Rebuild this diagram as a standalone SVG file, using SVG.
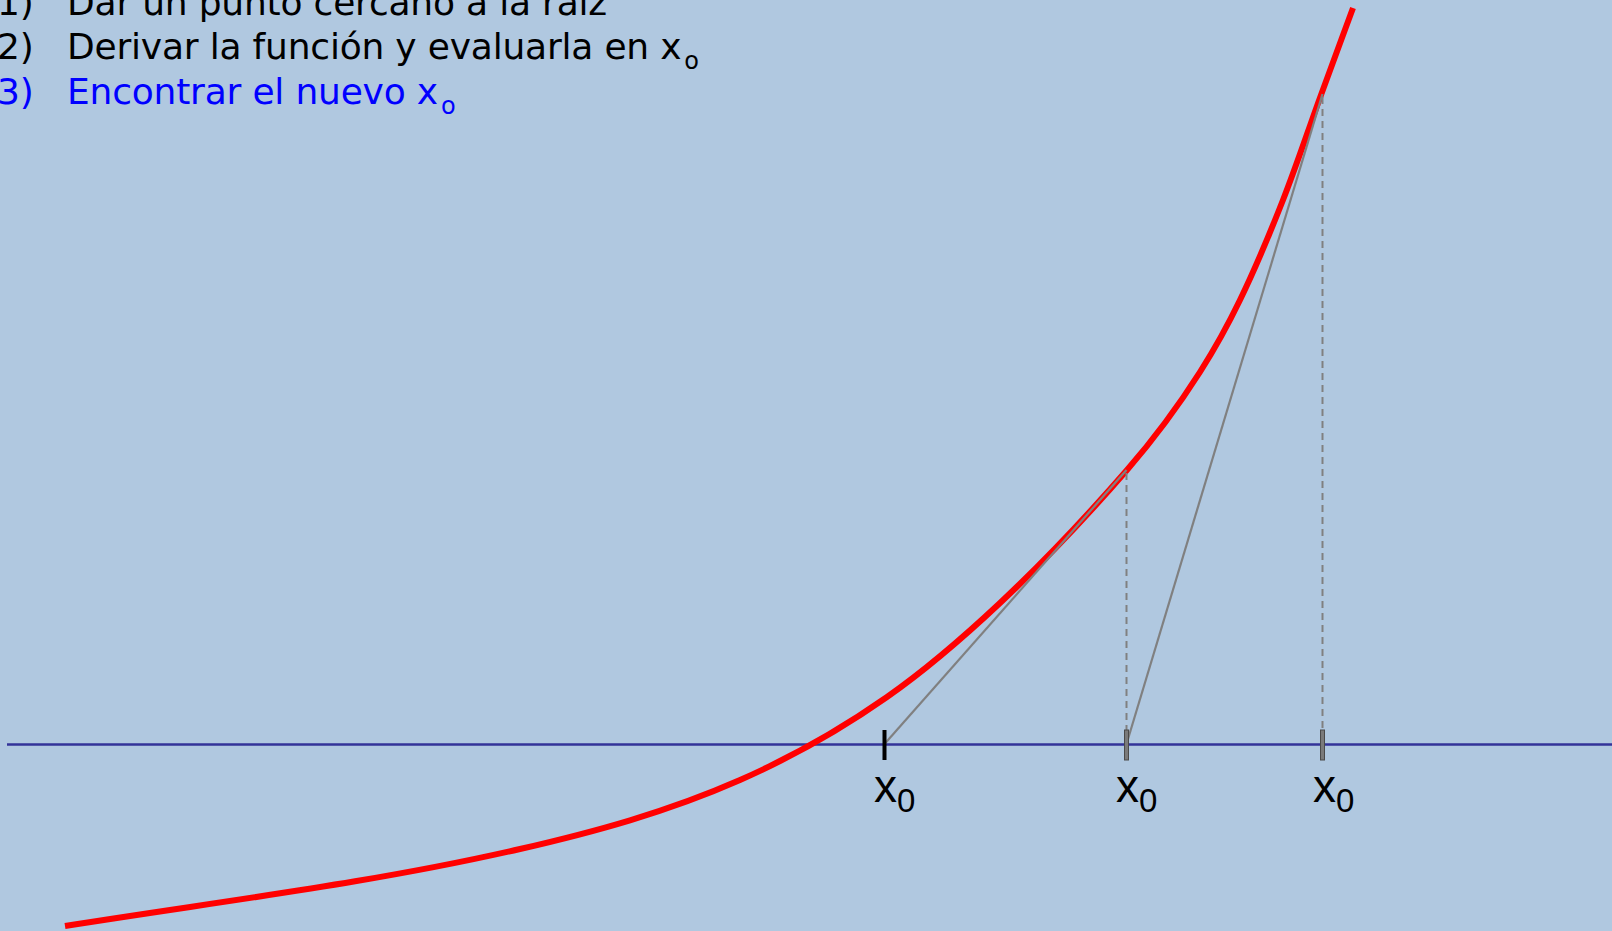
<svg xmlns="http://www.w3.org/2000/svg" width="1612" height="931" viewBox="0 0 1612 931">
  <style>
    .bg { fill: #b0c8e0; }
    .axis { stroke: #333399; stroke-width: 2.5; fill: none; }
    .curve { stroke: #ff0000; stroke-width: 6; fill: none; stroke-linecap: butt; }
    .tan { stroke: #808080; stroke-width: 2.2; fill: none; }
    .dash { stroke: #808080; stroke-width: 2; stroke-dasharray: 7 5; fill: none; }
    .tick0 { fill: #000000; }
    .tick { fill: #7a7a7a; stroke: #4a4a4a; stroke-width: 1; }
    .lab { font-family: "Liberation Sans", Arial, sans-serif; fill: #000000; }
    .list { font-family: "DejaVu Sans", Verdana, sans-serif; font-size: 36px; letter-spacing: -0.2px; }
  </style>
  <rect class="bg" x="0" y="0" width="1612" height="931"/>

  <g id="axis">
    <line class="axis" x1="7" y1="744.5" x2="1612" y2="744.5"/>
  </g>

  <g id="curve">
    <path class="curve" d="M65,926 C216.7,901.7 368.3,883.9 520,849 C593.3,832.1 666.7,812.3 740,780 C789,758.4 838,731.3 887,697 C924.7,670.6 962.3,638.4 1000,603 C1042.3,563.2 1084.7,518.7 1127,470 C1151.3,442 1175.7,410.2 1200,372 C1213.3,351.1 1226.7,327.5 1240,300 C1254.3,270.5 1268.7,236.4 1283,200 C1295.7,167.8 1308.3,129.7 1321,95 C1331.7,65.8 1342.3,37 1353,8"/>
  </g>

  <g id="connectors">
    <line class="tan" x1="884.5" y1="744" x2="1126.5" y2="470"/>
    <line class="tan" x1="1126.5" y1="744" x2="1322.5" y2="94"/>
    <line class="dash" x1="1126.5" y1="473" x2="1126.5" y2="730"/>
    <line class="dash" x1="1322.5" y1="97" x2="1322.5" y2="730"/>
  </g>

  <g id="tick-1">
    <rect class="tick0" x="882.5" y="730" width="4" height="30"/>
    <text class="lab" x="874" y="802" font-size="46">x<tspan font-size="33" dy="10">0</tspan></text>
  </g>
  <g id="tick-2">
    <rect class="tick" x="1124.5" y="730" width="4" height="30"/>
    <text class="lab" x="1116" y="802" font-size="46">x<tspan font-size="33" dy="10">0</tspan></text>
  </g>
  <g id="tick-3">
    <rect class="tick" x="1320.5" y="730" width="4" height="30"/>
    <text class="lab" x="1313" y="802" font-size="46">x<tspan font-size="33" dy="10">0</tspan></text>
  </g>

  <g id="steps">
    <text class="list" x="-3" y="15" fill="#000000">1)</text>
    <text class="list" x="67" y="15" fill="#000000">Dar un punto cercano a la raíz</text>
    <text class="list" x="-3" y="59" fill="#000000">2)</text>
    <text class="list" x="67" y="59" fill="#000000">Derivar la función y evaluarla en x<tspan font-size="24" dx="3" dy="10">o</tspan></text>
    <text class="list" x="-3" y="104" fill="#0000ff">3)</text>
    <text class="list" x="67" y="104" fill="#0000ff">Encontrar el nuevo x<tspan font-size="24" dx="3" dy="10">o</tspan></text>
  </g>
</svg>
